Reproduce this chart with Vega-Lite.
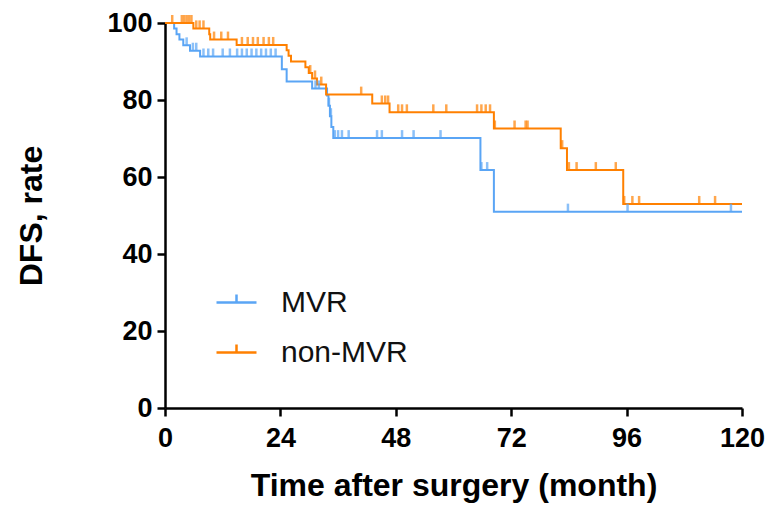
{
  "$schema": "https://vega.github.io/schema/vega-lite/v6.json",
  "width": 577,
  "height": 385,
  "autosize": {"type": "none"},
  "padding": {"left": 165, "top": 23, "right": 27, "bottom": 103},
  "background": "white",
  "config": {
    "view": {"stroke": null},
    "font": "Liberation Sans",
    "axis": {
      "grid": false,
      "domainColor": "black",
      "domainWidth": 2.5,
      "tickColor": "black",
      "tickWidth": 2.5,
      "tickSize": 8,
      "labelFont": "Liberation Sans",
      "labelFontSize": 27,
      "labelFontWeight": "bold",
      "labelColor": "black",
      "labelFlush": false,
      "labelOverlap": false,
      "titleFont": "Liberation Sans",
      "titleFontSize": 32,
      "titleFontWeight": "bold",
      "titleColor": "black"
    }
  },
  "datasets": {
    "curves": [
      {"group": "MVR", "month": 0, "rate": 100},
      {"group": "MVR", "month": 1.9, "rate": 98.6},
      {"group": "MVR", "month": 2.4, "rate": 97.1},
      {"group": "MVR", "month": 3.0, "rate": 95.7},
      {"group": "MVR", "month": 3.8, "rate": 94.2},
      {"group": "MVR", "month": 5.2, "rate": 92.8},
      {"group": "MVR", "month": 7.3, "rate": 91.3},
      {"group": "MVR", "month": 24.3, "rate": 88.0},
      {"group": "MVR", "month": 25.3, "rate": 84.8},
      {"group": "MVR", "month": 30.6, "rate": 83.0},
      {"group": "MVR", "month": 33.7, "rate": 81.2},
      {"group": "MVR", "month": 34.0, "rate": 78.5},
      {"group": "MVR", "month": 34.3, "rate": 75.8},
      {"group": "MVR", "month": 34.6, "rate": 73.0},
      {"group": "MVR", "month": 35.0, "rate": 70.1},
      {"group": "MVR", "month": 65.6, "rate": 61.8},
      {"group": "MVR", "month": 68.4, "rate": 51.0},
      {"group": "MVR", "month": 120, "rate": 51.0},
      {"group": "non-MVR", "month": 0, "rate": 100},
      {"group": "non-MVR", "month": 5.9, "rate": 98.6},
      {"group": "non-MVR", "month": 9.2, "rate": 97.1},
      {"group": "non-MVR", "month": 9.4, "rate": 95.7},
      {"group": "non-MVR", "month": 14.9, "rate": 94.3},
      {"group": "non-MVR", "month": 25.3, "rate": 92.9},
      {"group": "non-MVR", "month": 25.7, "rate": 91.5},
      {"group": "non-MVR", "month": 26.2, "rate": 90.0},
      {"group": "non-MVR", "month": 29.2, "rate": 88.5},
      {"group": "non-MVR", "month": 29.9, "rate": 87.0},
      {"group": "non-MVR", "month": 30.6, "rate": 85.6},
      {"group": "non-MVR", "month": 31.6, "rate": 84.0},
      {"group": "non-MVR", "month": 33.5, "rate": 81.4},
      {"group": "non-MVR", "month": 43.1, "rate": 79.1},
      {"group": "non-MVR", "month": 46.7, "rate": 76.8},
      {"group": "non-MVR", "month": 68.4, "rate": 72.6},
      {"group": "non-MVR", "month": 82.3, "rate": 67.5},
      {"group": "non-MVR", "month": 83.6, "rate": 61.8},
      {"group": "non-MVR", "month": 95.3, "rate": 53.0},
      {"group": "non-MVR", "month": 120, "rate": 53.0}
    ],
    "censors": [
      {"group": "MVR", "month": 4.5, "rate": 94.2},
      {"group": "MVR", "month": 5.8, "rate": 92.8},
      {"group": "MVR", "month": 6.5, "rate": 92.8},
      {"group": "MVR", "month": 8.0, "rate": 91.3},
      {"group": "MVR", "month": 9.0, "rate": 91.3},
      {"group": "MVR", "month": 10.0, "rate": 91.3},
      {"group": "MVR", "month": 12.0, "rate": 91.3},
      {"group": "MVR", "month": 13.5, "rate": 91.3},
      {"group": "MVR", "month": 15.0, "rate": 91.3},
      {"group": "MVR", "month": 16.0, "rate": 91.3},
      {"group": "MVR", "month": 17.0, "rate": 91.3},
      {"group": "MVR", "month": 18.0, "rate": 91.3},
      {"group": "MVR", "month": 19.0, "rate": 91.3},
      {"group": "MVR", "month": 20.0, "rate": 91.3},
      {"group": "MVR", "month": 21.0, "rate": 91.3},
      {"group": "MVR", "month": 22.0, "rate": 91.3},
      {"group": "MVR", "month": 23.0, "rate": 91.3},
      {"group": "MVR", "month": 31.3, "rate": 83.0},
      {"group": "MVR", "month": 32.0, "rate": 83.0},
      {"group": "MVR", "month": 34.1, "rate": 78.5},
      {"group": "MVR", "month": 34.5, "rate": 75.8},
      {"group": "MVR", "month": 35.3, "rate": 70.1},
      {"group": "MVR", "month": 36.0, "rate": 70.1},
      {"group": "MVR", "month": 36.8, "rate": 70.1},
      {"group": "MVR", "month": 38.2, "rate": 70.1},
      {"group": "MVR", "month": 44.1, "rate": 70.1},
      {"group": "MVR", "month": 45.1, "rate": 70.1},
      {"group": "MVR", "month": 49.3, "rate": 70.1},
      {"group": "MVR", "month": 51.7, "rate": 70.1},
      {"group": "MVR", "month": 57.3, "rate": 70.1},
      {"group": "MVR", "month": 65.8, "rate": 61.8},
      {"group": "MVR", "month": 67.0, "rate": 61.8},
      {"group": "MVR", "month": 83.8, "rate": 51.0},
      {"group": "MVR", "month": 96.2, "rate": 51.0},
      {"group": "MVR", "month": 117.7, "rate": 51.0},
      {"group": "non-MVR", "month": 1.5, "rate": 100},
      {"group": "non-MVR", "month": 3.5, "rate": 100},
      {"group": "non-MVR", "month": 4.0, "rate": 100},
      {"group": "non-MVR", "month": 4.5, "rate": 100},
      {"group": "non-MVR", "month": 5.0, "rate": 100},
      {"group": "non-MVR", "month": 5.5, "rate": 100},
      {"group": "non-MVR", "month": 6.5, "rate": 98.6},
      {"group": "non-MVR", "month": 7.2, "rate": 98.6},
      {"group": "non-MVR", "month": 8.0, "rate": 98.6},
      {"group": "non-MVR", "month": 10.2, "rate": 95.7},
      {"group": "non-MVR", "month": 11.7, "rate": 95.7},
      {"group": "non-MVR", "month": 13.1, "rate": 95.7},
      {"group": "non-MVR", "month": 16.0, "rate": 94.3},
      {"group": "non-MVR", "month": 17.2, "rate": 94.3},
      {"group": "non-MVR", "month": 18.3, "rate": 94.3},
      {"group": "non-MVR", "month": 19.3, "rate": 94.3},
      {"group": "non-MVR", "month": 20.5, "rate": 94.3},
      {"group": "non-MVR", "month": 21.6, "rate": 94.3},
      {"group": "non-MVR", "month": 22.5, "rate": 94.3},
      {"group": "non-MVR", "month": 30.2, "rate": 87.0},
      {"group": "non-MVR", "month": 31.2, "rate": 85.6},
      {"group": "non-MVR", "month": 32.5, "rate": 84.0},
      {"group": "non-MVR", "month": 40.8, "rate": 81.4},
      {"group": "non-MVR", "month": 45.1, "rate": 79.1},
      {"group": "non-MVR", "month": 45.8, "rate": 79.1},
      {"group": "non-MVR", "month": 46.4, "rate": 79.1},
      {"group": "non-MVR", "month": 48.5, "rate": 76.8},
      {"group": "non-MVR", "month": 49.3, "rate": 76.8},
      {"group": "non-MVR", "month": 50.3, "rate": 76.8},
      {"group": "non-MVR", "month": 55.8, "rate": 76.8},
      {"group": "non-MVR", "month": 58.5, "rate": 76.8},
      {"group": "non-MVR", "month": 64.9, "rate": 76.8},
      {"group": "non-MVR", "month": 65.8, "rate": 76.8},
      {"group": "non-MVR", "month": 66.7, "rate": 76.8},
      {"group": "non-MVR", "month": 67.6, "rate": 76.8},
      {"group": "non-MVR", "month": 68.6, "rate": 72.6},
      {"group": "non-MVR", "month": 72.7, "rate": 72.6},
      {"group": "non-MVR", "month": 75.0, "rate": 72.6},
      {"group": "non-MVR", "month": 75.4, "rate": 72.6},
      {"group": "non-MVR", "month": 82.6, "rate": 67.5},
      {"group": "non-MVR", "month": 84.0, "rate": 61.8},
      {"group": "non-MVR", "month": 85.6, "rate": 61.8},
      {"group": "non-MVR", "month": 89.6, "rate": 61.8},
      {"group": "non-MVR", "month": 93.75, "rate": 61.8},
      {"group": "non-MVR", "month": 95.5, "rate": 53.0},
      {"group": "non-MVR", "month": 97.2, "rate": 53.0},
      {"group": "non-MVR", "month": 98.6, "rate": 53.0},
      {"group": "non-MVR", "month": 111.1, "rate": 53.0},
      {"group": "non-MVR", "month": 114.4, "rate": 53.0}
    ]
  },
  "encoding": {
    "x": {
      "field": "month",
      "type": "quantitative",
      "scale": {"domain": [0, 120], "nice": false, "zero": true},
      "axis": {"values": [0, 24, 48, 72, 96, 120], "title": "Time after surgery (month)", "labelPadding": 9, "titlePadding": 19}
    },
    "y": {
      "field": "rate",
      "type": "quantitative",
      "scale": {"domain": [0, 100], "nice": false},
      "axis": {"values": [0, 20, 40, 60, 80, 100], "title": "DFS, rate", "labelPadding": 5, "titlePadding": 58}
    },
    "color": {
      "field": "group",
      "type": "nominal",
      "scale": {"domain": ["MVR", "non-MVR"], "range": ["#5AA5F5", "#FF8000"]}
    }
  },
  "layer": [
    {
      "data": {"name": "curves"},
      "mark": {"type": "line", "interpolate": "step-after", "strokeWidth": 2},
      "encoding": {
        "color": {
          "field": "group",
          "type": "nominal",
          "scale": {"domain": ["MVR", "non-MVR"], "range": ["#5AA5F5", "#FF8000"]},
          "legend": {
            "title": null,
            "orient": "none",
            "legendX": 50,
            "legendY": 258,
            "symbolType": "M-1,0H1M0,0V-0.4",
            "symbolSize": 1600,
            "symbolStrokeWidth": 2.5,
            "labelFont": "Liberation Sans",
            "labelFontSize": 30,
            "labelColor": "#111111",
            "labelOffset": 23,
            "rowPadding": 13,
            "padding": 0
          }
        }
      }
    },
    {
      "data": {"name": "censors"},
      "mark": {"type": "tick", "orient": "vertical", "size": 8, "thickness": 2.5, "yOffset": -4},
      "encoding": {
        "color": {
          "field": "group",
          "type": "nominal",
          "scale": {"domain": ["MVR", "non-MVR"], "range": ["#5AA5F5", "#FF8000"]},
          "legend": null
        }
      }
    }
  ]
}
